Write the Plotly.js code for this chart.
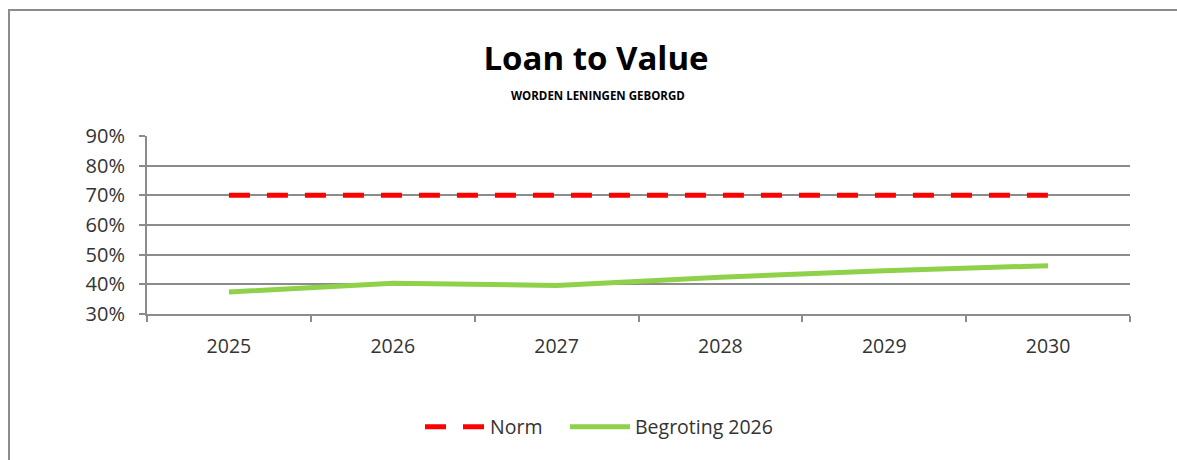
<!DOCTYPE html>
<html>
<head>
<meta charset="utf-8">
<script src="https://cdn.plot.ly/plotly-3.0.1.min.js"></script>
<style>
  html, body { margin: 0; padding: 0; background: #ffffff; overflow: hidden; }
  #wrap { position: relative; width: 1177px; height: 460px; overflow: hidden; }
  #chart { position: absolute; left: 0; top: 0; width: 1177px; height: 460px; }
  #frameTop { position: absolute; left: 8px; top: 9px; width: 1200px; height: 2px; background: #8c8c8c; }
  #frameLeft { position: absolute; left: 8px; top: 9px; width: 2px; height: 451px; background: #8c8c8c; }
</style>
</head>
<body>
<div id="wrap">
  <div id="chart"></div>
  <div id="frameTop"></div>
  <div id="frameLeft"></div>
</div>
<script>
const years = ['2025', '2026', '2027', '2028', '2029', '2030'];
const normValues = [0.70, 0.70, 0.70, 0.70, 0.70, 0.70];
const begrotingValues = [0.374, 0.404, 0.396, 0.424, 0.446, 0.463];
const seriesNames = ['Norm', 'Begroting 2026'];
const titleText = 'Loan to Value';
const subtitleText = 'WORDEN LENINGEN GEBORGD';

const font = '"Open Sans", "Noto Sans", sans-serif';
const textColor = '#333333';
const gridColor = '#8c8c8c';

const traces = [
  {
    x: years, y: normValues, name: seriesNames[0], type: 'scatter', mode: 'lines',
    line: { color: '#ff0000', width: 5, dash: '21px,17px' },
    legend: 'legend',
    hoverinfo: 'skip'
  },
  {
    x: years, y: begrotingValues, name: seriesNames[1], type: 'scatter', mode: 'lines',
    line: { color: '#8fd14a', width: 5 },
    legend: 'legend2',
    hoverinfo: 'skip'
  }
];

const legendFont = { family: font, size: 19.5, color: textColor };

const layout = {
  width: 1177, height: 460,
  margin: { l: 147, r: 47, t: 136, b: 146 },
  paper_bgcolor: '#ffffff', plot_bgcolor: '#ffffff',
  font: { family: font, color: textColor },
  title: {
    text: titleText,
    font: { family: font, size: 33, color: '#000000', weight: 'bold' },
    x: 596 / 1177, xanchor: 'center', xref: 'container',
    y: 1 - 58 / 460, yanchor: 'middle', yref: 'container'
  },
  annotations: [{
    text: subtitleText, showarrow: false,
    xref: 'paper', yref: 'paper',
    x: (598 - 147) / 983, xanchor: 'center',
    y: 1 + (136 - 96) / 178, yanchor: 'middle',
    font: { family: font, size: 11.5, color: '#000000', weight: 'bold' }
  }],
  xaxis: {
    type: 'category', range: [-0.5, 5.5],
    showgrid: false, zeroline: false,
    showline: true, linecolor: gridColor, linewidth: 2,
    ticks: 'outside', tickson: 'boundaries', ticklen: 6, tickwidth: 2, tickcolor: gridColor,
    tickfont: { family: font, size: 19.5, color: textColor },
    ticklabelstandoff: 14,
    fixedrange: true
  },
  yaxis: {
    range: [0.3, 0.9], dtick: 0.1, tick0: 0.3, tickformat: '.0%',
    showgrid: true, gridcolor: gridColor, gridwidth: 2,
    zeroline: false,
    showline: true, linecolor: gridColor, linewidth: 2,
    ticks: 'outside', ticklen: 6, tickwidth: 2, tickcolor: gridColor,
    tickfont: { family: font, size: 20, color: textColor },
    ticklabelstandoff: 10,
    fixedrange: true
  },
  showlegend: true,
  legend: {
    orientation: 'h',
    xref: 'container', yref: 'container',
    x: 420 / 1177, xanchor: 'left',
    y: 1 - 427 / 460, yanchor: 'middle',
    font: legendFont,
    itemwidth: 60,
    bgcolor: 'rgba(0,0,0,0)'
  },
  legend2: {
    orientation: 'h',
    xref: 'container', yref: 'container',
    x: 565 / 1177, xanchor: 'left',
    y: 1 - 427 / 460, yanchor: 'middle',
    font: legendFont,
    itemwidth: 60,
    bgcolor: 'rgba(0,0,0,0)'
  }
};

Plotly.newPlot('chart', traces, layout, { staticPlot: true, displayModeBar: false });
</script>
</body>
</html>
